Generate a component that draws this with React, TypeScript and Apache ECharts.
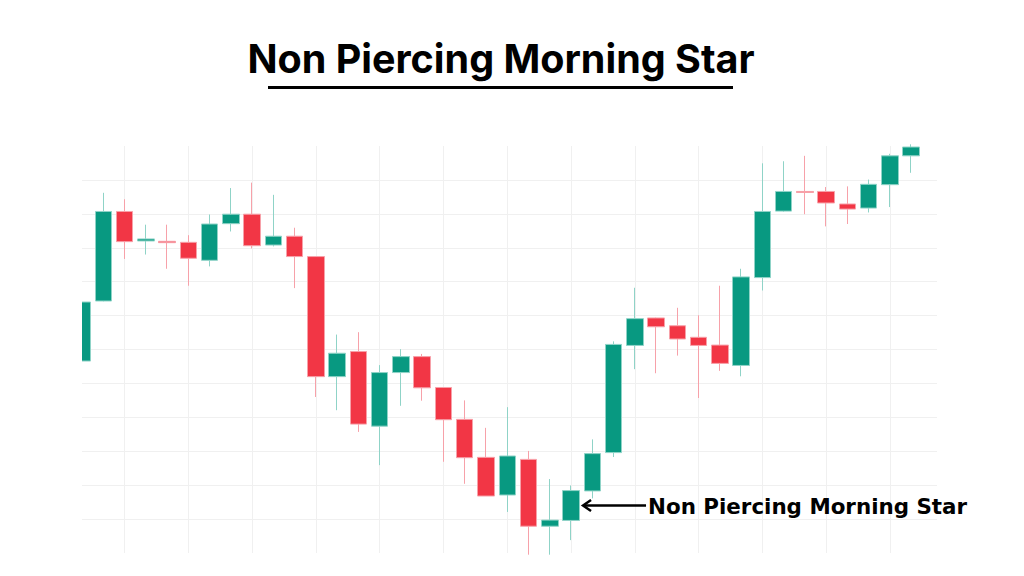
import { useEffect, useRef } from "react";
import * as echarts from "echarts";

const categories = [
  "1", "2", "3", "4", "5", "6", "7", "8", "9", "10",
  "11", "12", "13", "14", "15", "16", "17", "18", "19", "20",
  "21", "22", "23", "24", "25", "26", "27", "28", "29", "30",
  "31", "32", "33", "34", "35", "36", "37", "38", "39", "40", "41",
];

const opens = [
  146.6, 164.3, 190.7, 182.0, 181.9, 181.6, 176.3, 187.1, 189.9, 180.8,
  183.4, 177.4, 142.0, 149.4, 127.4, 143.2, 147.9, 138.8, 129.4, 118.2,
  107.1, 117.6, 97.9, 99.6, 108.3, 119.6, 151.2, 159.3, 157.0, 153.6,
  151.3, 145.3, 171.2, 190.8, 196.6, 196.6, 192.9, 191.7, 198.6, 207.1,
];
const closes = [
  164.0, 190.7, 181.8, 182.6, 181.5, 176.9, 187.0, 189.9, 180.6, 183.4,
  177.4, 142.0, 148.9, 128.0, 143.2, 147.9, 138.7, 129.3, 118.1, 106.8,
  118.6, 97.9, 99.7, 108.4, 119.3, 151.5, 159.1, 156.7, 153.1, 151.2,
  145.9, 171.4, 190.7, 196.6, 196.3, 193.2, 191.4, 198.7, 207.1, 209.7,
];
const lows = [
  146.5, 164.2, 176.7, 178.0, 173.8, 168.8, 174.5, 184.8, 179.8, 180.4,
  168.1, 136.0, 132.1, 125.7, 115.9, 133.4, 134.9, 116.9, 110.4, 106.8,
  102.1, 89.5, 89.5, 93.8, 106.1, 118.3, 144.2, 143.0, 148.2, 135.7,
  143.7, 142.1, 167.4, 190.6, 189.9, 186.3, 187.0, 190.4, 192.0, 202.1,
];
const highs = [
  164.1, 196.2, 194.3, 186.8, 186.8, 183.7, 189.8, 197.6, 199.2, 195.6,
  185.9, 177.5, 154.4, 155.1, 145.4, 150.1, 148.7, 138.8, 135.0, 126.9,
  133.0, 120.1, 111.8, 109.9, 123.5, 152.4, 168.2, 159.4, 162.3, 160.1,
  168.8, 173.8, 204.9, 205.5, 207.1, 197.9, 198.1, 200.1, 207.7, 210.5,
];

const priceMin = 90;
const priceMax = 210;
const priceStep = 10;

const titleText = "Non Piercing Morning Star";
const markedCandle = 23;

const UP = "#089981";
const DOWN = "#F23645";

export default function App() {
  const ref = useRef<HTMLDivElement>(null);

  useEffect(() => {
    document.body.style.margin = "0";
    if (!ref.current) return;
    const chart = echarts.init(ref.current, null, { renderer: "svg" });
    const candles = opens.map((o, i) => [o, closes[i], lows[i], highs[i]]);

    chart.setOption({
      animation: false,
      backgroundColor: "#ffffff",
      grid: [
        { left: 82, right: 91.5, top: 146, bottom: 23 },
        { left: 82, right: 87, top: 146, bottom: 23 },
      ],
      xAxis: [
        {
          type: "category",
          data: categories,
          boundaryGap: false,
          axisLine: { show: false },
          axisTick: { show: false },
          axisLabel: { show: false },
          splitLine: {
            show: true,
            interval: (index: number) => index % 3 === 2,
            lineStyle: { color: "#f0f0f0", width: 1 },
          },
        },
        { type: "value", gridIndex: 1, min: 0, max: 1, show: false },
      ],
      yAxis: [
        {
          type: "value",
          min: priceMin,
          max: priceMax,
          show: false,
          splitLine: { show: false },
        },
        {
          type: "value",
          gridIndex: 1,
          min: priceMin,
          max: priceMax,
          interval: priceStep,
          axisLine: { show: false },
          axisTick: { show: false },
          axisLabel: { show: false },
          splitLine: {
            show: true,
            showMinLine: false,
            showMaxLine: false,
            lineStyle: { color: "#f0f0f0", width: 1 },
          },
        },
      ],
      series: [
        {
          type: "candlestick",
          data: candles,
          barWidth: 17,
          itemStyle: {
            color: UP,
            color0: DOWN,
            borderColor: "#8fd3c7",
            borderColor0: "#f7a1a9",
            borderWidth: 1,
          },
        },
      ],
    });

    // arrow + label next to the marked candle
    const c = markedCandle;
    const [cx, cy] = chart.convertToPixel({ xAxisIndex: 0, yAxisIndex: 0 }, [
      c,
      (opens[c] + closes[c]) / 2,
    ]) as number[];
    const tip = cx + 12;
    chart.setOption({
      graphic: [
        // the chart is cut at the plot's left edge
        {
          type: "rect",
          z: 100,
          shape: { x: 0, y: 140, width: 82, height: 420 },
          style: { fill: "#ffffff" },
        },
        {
          type: "text",
          x: 501,
          y: 59,
          z: 100,
          style: {
            text: titleText,
            font: "bold 39.5px Inter",
            fill: "#000",
            align: "center",
            verticalAlign: "middle",
          },
        },
        {
          type: "line",
          z: 100,
          shape: { x1: 268, y1: 87.5, x2: 733, y2: 87.5 },
          style: { stroke: "#000", lineWidth: 3 },
        },
        {
          type: "line",
          z: 100,
          shape: { x1: tip + 1, y1: cy, x2: tip + 63, y2: cy },
          style: { stroke: "#000", lineWidth: 2.5 },
        },
        {
          type: "polyline",
          z: 100,
          shape: { points: [[tip + 8, cy - 5.5], [tip, cy], [tip + 8, cy + 5.5]] },
          style: { stroke: "#000", lineWidth: 2.5, fill: null },
        },
        {
          type: "text",
          x: tip + 65,
          y: cy + 0.5,
          z: 100,
          style: {
            text: titleText,
            font: "bold 21.4px 'DejaVu Sans'",
            fill: "#000",
            align: "left",
            verticalAlign: "middle",
          },
        },
      ],
    });

    return () => chart.dispose();
  }, []);

  return <div ref={ref} style={{ width: 1024, height: 576 }} />;
}
